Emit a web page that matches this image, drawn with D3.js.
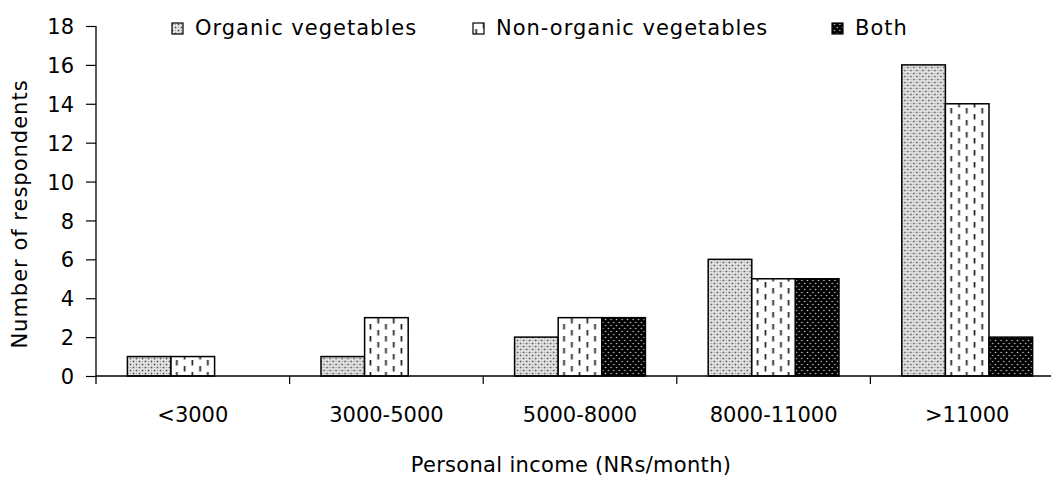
<!DOCTYPE html>
<html>
<head>
<meta charset="utf-8">
<script src="https://cdn.jsdelivr.net/npm/d3@7"></script>
<style>
  body { margin: 0; background: #fff; }
  text { font-family: "DejaVu Sans", sans-serif; fill: #000; }
</style>
</head>
<body>
<div id="chart"></div>
<script>
// data
const categories = ["<3000", "3000-5000", "5000-8000", "8000-11000", ">11000"];
const seriesNames = ["Organic vegetables", "Non-organic vegetables", "Both"];
const organic = [1, 1, 2, 6, 16];
const nonOrganic = [1, 3, 3, 5, 14];
const both = [0, 0, 3, 5, 2];
const yTicks = [0, 2, 4, 6, 8, 10, 12, 14, 16, 18];

const W = 1051, H = 480;
const x0 = 96, x1 = 96 + 5 * 193.6;
const yTop = 26, yBot = 376;

const svg = d3.select("#chart").append("svg")
  .attr("width", W).attr("height", H);

// fill patterns
const defs = svg.append("defs");
const pOrg = defs.append("pattern").attr("id", "pOrg")
  .attr("patternUnits", "userSpaceOnUse").attr("width", 6).attr("height", 6);
pOrg.append("rect").attr("width", 6).attr("height", 6).attr("fill", "#e6e6e6");
pOrg.append("circle").attr("cx", 1.5).attr("cy", 1.5).attr("r", 0.9).attr("fill", "#555");
pOrg.append("circle").attr("cx", 4.5).attr("cy", 4.5).attr("r", 0.9).attr("fill", "#555");
pOrg.append("circle").attr("cx", 4.5).attr("cy", 1.5).attr("r", 0.6).attr("fill", "#888");
pOrg.append("circle").attr("cx", 1.5).attr("cy", 4.5).attr("r", 0.6).attr("fill", "#888");

const pNon = defs.append("pattern").attr("id", "pNon")
  .attr("patternUnits", "userSpaceOnUse").attr("width", 15.5).attr("height", 12);
pNon.append("rect").attr("width", 15.5).attr("height", 12).attr("fill", "#fff");
pNon.append("rect").attr("x", 2.5).attr("y", 0).attr("width", 1.7).attr("height", 5.5).attr("fill", "#222");
pNon.append("rect").attr("x", 10.3).attr("y", 6).attr("width", 1.7).attr("height", 5.5).attr("fill", "#222");

const pBoth = defs.append("pattern").attr("id", "pBoth")
  .attr("patternUnits", "userSpaceOnUse").attr("width", 5.5).attr("height", 6);
pBoth.append("rect").attr("width", 5.5).attr("height", 6).attr("fill", "#000");
pBoth.append("circle").attr("cx", 1.4).attr("cy", 1.5).attr("r", 0.8).attr("fill", "#ccc");
pBoth.append("circle").attr("cx", 4.15).attr("cy", 4.5).attr("r", 0.8).attr("fill", "#ccc");

const fills = ["url(#pOrg)", "url(#pNon)", "url(#pBoth)"];

const x = d3.scaleBand().domain(categories).range([x0, x1]).paddingInner(0).paddingOuter(0);
const xSub = d3.scaleBand().domain(d3.range(3)).range([0, x.bandwidth()]).paddingOuter(0.72).paddingInner(0);
const y = d3.scaleLinear().domain([0, 18]).range([yBot, yTop]);

const rows = categories.map((c, i) => ({ cat: c, vals: [organic[i], nonOrganic[i], both[i]] }));

// bars
const groups = svg.selectAll("g.cat").data(rows).enter().append("g")
  .attr("class", "cat")
  .attr("transform", d => "translate(" + x(d.cat) + ",0)");

groups.selectAll("rect")
  .data(d => d.vals.map((v, j) => ({ v: v, j: j })).filter(d => d.v > 0))
  .enter().append("rect")
  .attr("x", d => xSub(d.j))
  .attr("y", d => y(d.v))
  .attr("width", xSub.bandwidth())
  .attr("height", d => yBot - y(d.v))
  .attr("fill", d => fills[d.j])
  .attr("stroke", "#000")
  .attr("stroke-width", 1.5);

// y axis
const yAxis = d3.axisLeft(y).tickValues(yTicks).tickSize(10).tickPadding(12);
const gy = svg.append("g").attr("transform", "translate(" + x0 + ",0)").call(yAxis);
gy.select(".domain").attr("d", "M0," + yTop + "V" + (yBot + 8)).attr("stroke-width", 1.3);
gy.selectAll(".tick line").attr("stroke-width", 1.2);
gy.selectAll(".tick text").style("font-size", "21px").attr("dy", "0.36em");

// x axis
const xAxis = d3.axisBottom(x).tickSize(0).tickPadding(31);
const gx = svg.append("g").attr("transform", "translate(0," + yBot + ")").call(xAxis);
gx.select(".domain").attr("d", "M" + x0 + ",0H" + W).attr("stroke-width", 1.3);
gx.selectAll(".tick text").style("font-size", "21px").attr("dy", "0.71em");
// boundary ticks between categories
gx.selectAll("line.sep").data(categories.slice(1)).enter().append("line")
  .attr("class", "sep")
  .attr("x1", d => x(d)).attr("x2", d => x(d))
  .attr("y1", 0).attr("y2", 8)
  .attr("stroke", "#000").attr("stroke-width", 1.2);

// axis titles
svg.append("text")
  .attr("x", 571).attr("y", 472)
  .attr("text-anchor", "middle")
  .style("font-size", "21px")
  .style("letter-spacing", "0.3px")
  .text("Personal income (NRs/month)");

svg.append("text")
  .attr("transform", "translate(27,214) rotate(-90)")
  .attr("text-anchor", "middle")
  .style("font-size", "21px")
  .style("letter-spacing", "1px")
  .text("Number of respondents");

// legend
const legendX = [195, 496, 855];
const lg = svg.selectAll("g.legend").data(seriesNames).enter().append("g")
  .attr("class", "legend")
  .attr("transform", (d, i) => "translate(" + legendX[i] + ",35)");
lg.append("rect")
  .attr("x", -23).attr("y", -12).attr("width", 11).attr("height", 11)
  .attr("fill", (d, i) => fills[i])
  .attr("stroke", "#000").attr("stroke-width", 1.2);
lg.append("text")
  .attr("x", 0).attr("y", 0)
  .style("font-size", "21px")
  .style("letter-spacing", "1px")
  .text(d => d);
</script>
</body>
</html>
